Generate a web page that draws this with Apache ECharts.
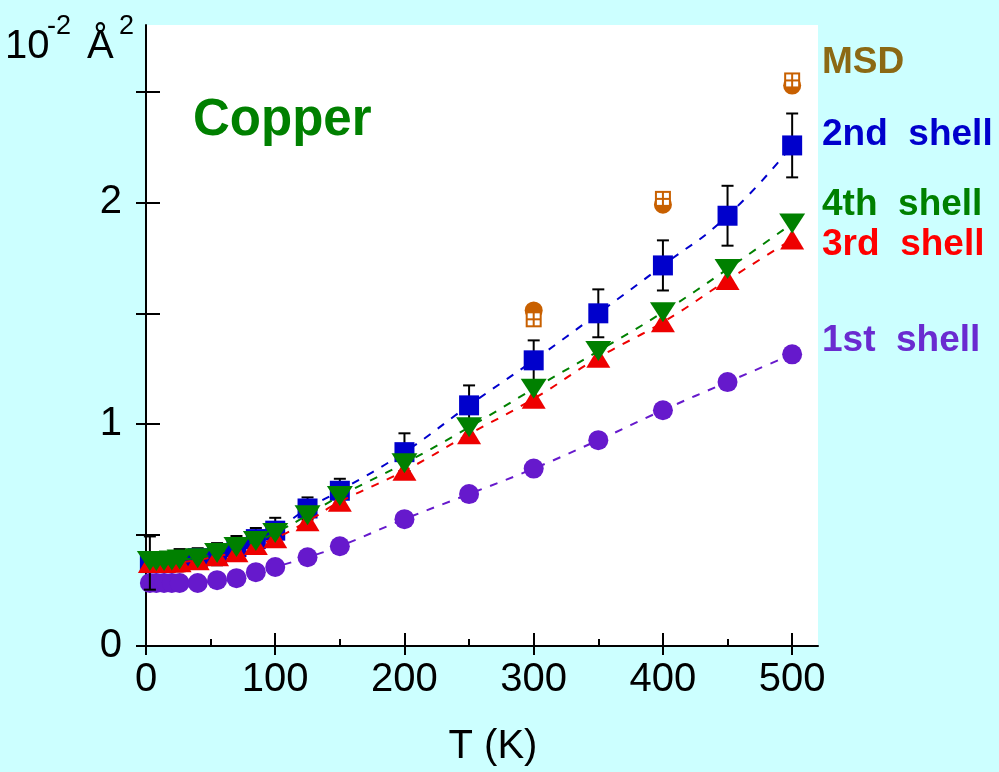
<!DOCTYPE html>
<html>
<head>
<meta charset="utf-8">
<script src="https://cdn.jsdelivr.net/npm/echarts@6/dist/echarts.min.js"></script>
<style>
html,body{margin:0;padding:0;background:#CCFFFF;}
#c{width:999px;height:772px;}
</style>
</head>
<body>
<div id="c"></div>
<script>
// ---- data ----
var temps = [3, 8, 14, 20, 26, 40, 55, 70, 85, 100, 125, 150, 200, 250, 300, 350, 400, 450, 500];
var shell1 = [0.284,0.284,0.284,0.284,0.284,0.284,0.297,0.306,0.333,0.356,0.40,0.45,0.572,0.685,0.80,0.928,1.063,1.19,1.315];
var shell2 = [0.374,0.374,0.374,0.378,0.387,0.396,0.414,0.446,0.482,0.52,0.62,0.70,0.874,1.085,1.288,1.50,1.716,1.94,2.257];
var shell2Err = [0.12,0.03,0.03,0.03,0.05,0.045,0.05,0.05,0.05,0.058,0.05,0.054,0.085,0.09,0.09,0.108,0.113,0.135,0.144];
var shell3 = [0.374,0.374,0.374,0.376,0.378,0.387,0.405,0.423,0.455,0.486,0.563,0.65,0.79,0.955,1.115,1.30,1.46,1.65,1.833];
var shell4 = [0.383,0.383,0.383,0.385,0.39,0.396,0.419,0.446,0.473,0.51,0.59,0.676,0.824,0.986,1.16,1.33,1.505,1.70,1.905];
var msdT = [300, 400, 500];
var msdCircle = [1.513, 1.99, 2.527];
var msdSquare = [1.473, 2.016, 2.55];
var xTicks = [0, 100, 200, 300, 400, 500];
var xMinorTicks = [50, 150, 250, 350, 450];
var yTicks = [0, 0.5, 1, 1.5, 2, 2.5];
var yLabels = [0, 1, 2];
var seriesNames = ['1st  shell', '2nd  shell', '3rd  shell', '4th  shell', 'MSD'];

var FONT = "'Liberation Sans', Arial, Helvetica, sans-serif";
function pairs(xs, ys){ return xs.map(function(x,i){ return [x, ys[i]]; }); }

var chart = echarts.init(document.getElementById('c'), null, {renderer:'canvas'});

function mkX(extra){
  return Object.assign({
    type:'value', min:0, max:520, position:'bottom', gridIndex:0,
    splitLine:{show:false},
    axisLine:{show:false},
    axisLabel:{show:false},
    axisTick:{show:false}
  }, extra);
}
function mkY(extra){
  return Object.assign({
    type:'value', min:0, max:2.8, position:'left', gridIndex:0,
    splitLine:{show:false},
    axisLine:{show:false},
    axisLabel:{show:false},
    axisTick:{show:false}
  }, extra);
}

var option = {
  backgroundColor:'#CCFFFF',
  animation:false,
  grid:{left:146, right:181, top:25, bottom:126, show:true, backgroundColor:'#ffffff', borderWidth:0},
  xAxis:[
    mkX({
      axisLine:{show:true, onZero:false, lineStyle:{color:'#000', width:2}},
      axisTick:{show:true, inside:false, length:9, customValues:xTicks, lineStyle:{color:'#000', width:2}},
      axisLabel:{show:true, customValues:xTicks, fontSize:40, color:'#000', fontFamily:FONT, margin:14}
    }),
    mkX({axisTick:{show:true, inside:true, length:13, customValues:xTicks, lineStyle:{color:'#000', width:2}}}),
    mkX({axisTick:{show:true, inside:true, length:7, customValues:xMinorTicks, lineStyle:{color:'#000', width:2}}})
  ],
  yAxis:[
    mkY({
      axisLine:{show:true, onZero:false, lineStyle:{color:'#000', width:2}},
      axisTick:{show:true, inside:false, length:10, customValues:yTicks, lineStyle:{color:'#000', width:2}},
      axisLabel:{show:true, customValues:yLabels, fontSize:40, color:'#000', fontFamily:FONT, margin:24}
    }),
    mkY({axisTick:{show:true, inside:true, length:14, customValues:yTicks, lineStyle:{color:'#000', width:2}}})
  ],
  graphic:[
    {type:'text', x:5, y:47, style:{text:'10', font:'40px '+FONT, fill:'#000', verticalAlign:'middle', align:'left'}},
    {type:'text', x:47, y:27, style:{text:'-2', font:'27px '+FONT, fill:'#000', verticalAlign:'middle', align:'left'}},
    {type:'text', x:87, y:47, style:{text:'Å', font:'40px '+FONT, fill:'#000', verticalAlign:'middle', align:'left'}},
    {type:'text', x:119, y:27, style:{text:'2', font:'27px '+FONT, fill:'#000', verticalAlign:'middle', align:'left'}},
    {type:'text', x:493, y:747, style:{text:'T (K)', font:'40px '+FONT, fill:'#000', verticalAlign:'middle', align:'center'}},
    {type:'text', x:193, y:121, style:{text:'Copper', font:'bold 51px '+FONT, fill:'#008000', verticalAlign:'middle', align:'left'}},
    {type:'text', x:822, y:63, style:{text:seriesNames[4], font:'bold 37px '+FONT, fill:'#8B6914', verticalAlign:'middle', align:'left'}},
    {type:'text', x:822, y:135, style:{text:seriesNames[1], font:'bold 37px '+FONT, fill:'#0000CC', verticalAlign:'middle', align:'left'}},
    {type:'text', x:822, y:205, style:{text:seriesNames[3], font:'bold 37px '+FONT, fill:'#008000', verticalAlign:'middle', align:'left'}},
    {type:'text', x:822, y:245, style:{text:seriesNames[2], font:'bold 37px '+FONT, fill:'#FF0000', verticalAlign:'middle', align:'left'}},
    {type:'text', x:822, y:341, style:{text:seriesNames[0], font:'bold 37px '+FONT, fill:'#6A2BD0', verticalAlign:'middle', align:'left'}}
  ],
  series:[
    {
      name:seriesNames[0], type:'line', data:pairs(temps, shell1), z:2,
      smooth:true, symbol:'circle', symbolSize:20, showSymbol:true, showAllSymbol:true,
      itemStyle:{color:'#6619CC'}, lineStyle:{color:'#6619CC', width:2, type:[8,9]}
    },
    {
      name:'err', type:'custom', z:3,
      data:temps.map(function(t,i){ return [t, shell2[i], shell2Err[i]]; }),
      renderItem:function(params, api){
        var x = api.value(0), y = api.value(1), e = api.value(2);
        var top = api.coord([x, y+e]), bot = api.coord([x, y-e]);
        var hw = 6;
        var st = {stroke:'#000', lineWidth:2};
        return {type:'group', children:[
          {type:'line', shape:{x1:top[0], y1:top[1], x2:bot[0], y2:bot[1]}, style:st},
          {type:'line', shape:{x1:top[0]-hw, y1:top[1], x2:top[0]+hw, y2:top[1]}, style:st},
          {type:'line', shape:{x1:bot[0]-hw, y1:bot[1], x2:bot[0]+hw, y2:bot[1]}, style:st}
        ]};
      }
    },
    {
      name:seriesNames[1], type:'line', data:pairs(temps, shell2), z:4,
      smooth:true, symbol:'rect', symbolSize:20, showSymbol:true, showAllSymbol:true,
      itemStyle:{color:'#0000CC'}, lineStyle:{color:'#0000CC', width:2, type:[8,9]}
    },
    {
      name:seriesNames[2], type:'line', data:pairs(temps, shell3), z:5,
      smooth:true, symbol:'triangle', symbolSize:[24,20], showSymbol:true, showAllSymbol:true,
      itemStyle:{color:'#EE0000'}, lineStyle:{color:'#EE0000', width:2, type:[8,9]}
    },
    {
      name:seriesNames[3], type:'line', data:pairs(temps, shell4), z:6,
      smooth:true, symbol:'triangle', symbolRotate:180, symbolSize:[26,20], showSymbol:true, showAllSymbol:true,
      itemStyle:{color:'#008000'}, lineStyle:{color:'#008000', width:2, type:[8,9]}
    },
    {
      name:seriesNames[4]+' circle', type:'scatter', data:pairs(msdT, msdCircle), z:7,
      symbol:'circle', symbolSize:18, itemStyle:{color:'#C86000', opacity:1}
    },
    {
      name:seriesNames[4], type:'custom', z:8,
      data:pairs(msdT, msdSquare),
      renderItem:function(params, api){
        var p = api.coord([api.value(0), api.value(1)]);
        var s = 16, h = s/2, pw = 5, g = 2;
        var cx = p[0], cy = p[1];
        var white = {fill:'#ffffff'};
        return {type:'group', children:[
          {type:'rect', shape:{x:cx-h, y:cy-h, width:s, height:s}, style:{fill:'#C86000'}},
          {type:'rect', shape:{x:cx-h+g, y:cy-h+g, width:pw, height:pw}, style:white},
          {type:'rect', shape:{x:cx+1, y:cy-h+g, width:pw, height:pw}, style:white},
          {type:'rect', shape:{x:cx-h+g, y:cy+1, width:pw, height:pw}, style:white},
          {type:'rect', shape:{x:cx+1, y:cy+1, width:pw, height:pw}, style:white}
        ]};
      }
    }
  ]
};
chart.setOption(option);
</script>
</body>
</html>
